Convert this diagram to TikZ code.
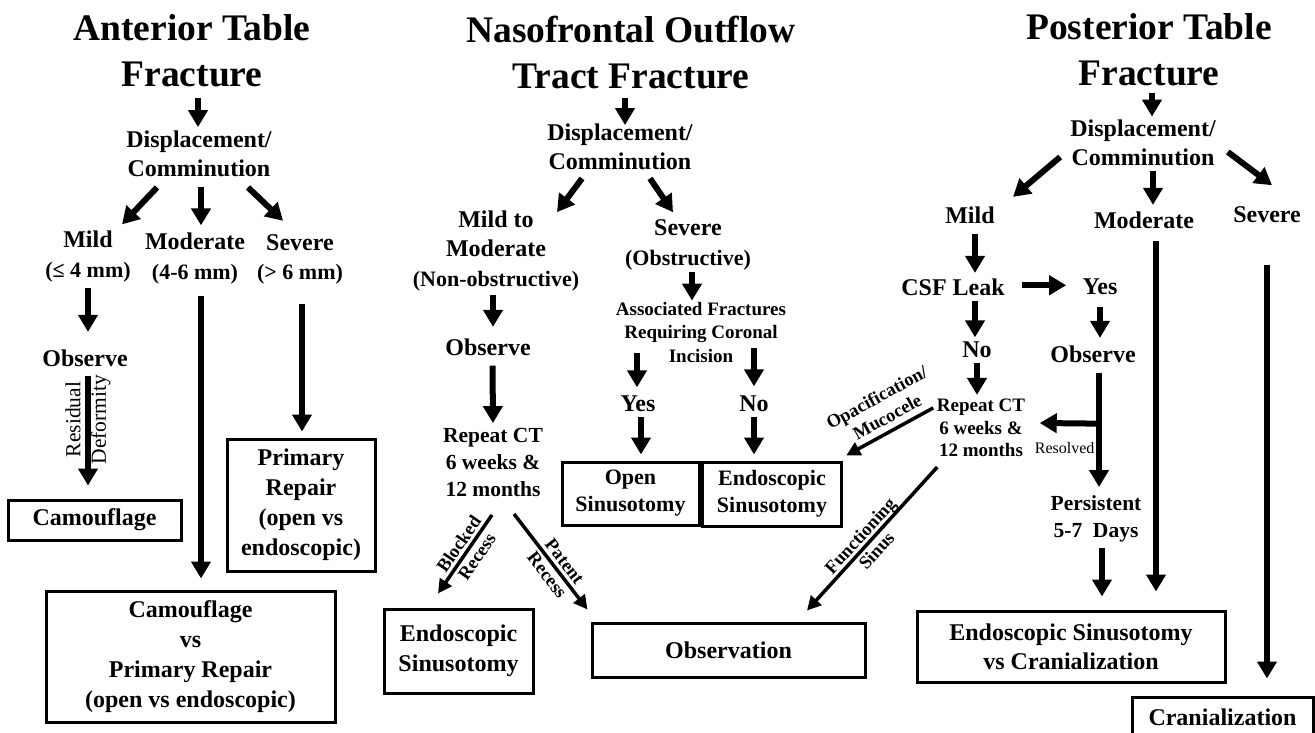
\documentclass[tikz,border=0pt]{standalone}
\usepackage{fontspec}
\setmainfont{Liberation Serif}
\usetikzlibrary{arrows.meta,calc}
\newcommand\pn[1]{{\fontsize{22}{29.5}\selectfont #1}}

\begin{document}
\begin{tikzpicture}[x=1pt,y=-1pt,
    tx/.style={align=center,inner sep=0pt},
    ttl/.style={tx,font=\fontsize{37.5}{46}\selectfont\bfseries},
    txt/.style={tx,font=\fontsize{24}{29.5}\selectfont\bfseries},
    sml/.style={tx,font=\fontsize{19}{23.5}\selectfont\bfseries},
    rpt/.style={tx,font=\fontsize{21.5}{27}\selectfont\bfseries},
    rptr/.style={tx,font=\fontsize{19}{22.5}\selectfont\bfseries},
    lbl/.style={tx,font=\fontsize{18.5}{22}\selectfont\bfseries},
    resid/.style={tx,font=\fontsize{21.5}{25.5}\selectfont},
    res/.style={tx,font=\fontsize{16}{19}\selectfont},
    rbox/.style={draw,line width=3pt,align=center,inner sep=0pt,font=\fontsize{24}{30}\selectfont\bfseries},
    arr/.style={line width=6pt,-{Triangle[width=19pt,length=17pt]}},
    darr/.style={line width=3.5pt,-{Triangle[width=14pt,length=14pt]}}]
\useasboundingbox (0,0) rectangle (1315,733);

% anterior table
\node[ttl] (tA) at (192,51) {Anterior Table\\Fracture};
\node[txt] (dA) at (199,154) {Displacement/\\Comminution};
\node[txt] (mildA) at (88,256.5) {Mild\\\pn{(≤ 4 mm)}};
\node[txt] (modA) at (195,258.5) {Moderate\\\pn{(4-6 mm)}};
\node[txt] (sevA) at (300,259.5) {Severe\\\pn{(> 6 mm)}};
\node[txt] (obsA) at (85,358) {Observe};
\node[rbox,minimum width=173pt,minimum height=40pt] (camA) at (94.5,520) {Camouflage};
\node[rbox,minimum width=148pt,minimum height=132pt] (primA) at (301,505) {Primary\\Repair\\(open vs\\endoscopic)};
\node[rbox,minimum width=289pt,minimum height=131pt] (cvpA) at (190.5,656.5) {Camouflage\\vs\\Primary Repair\\(open vs endoscopic)};

\draw[arr] ($(tA.south)+(6,11)$) -- ($(dA.north)+(-1,-3.5)$);
\draw[arr] ($(dA.south)+(-42,10)$) -- ($(mildA.north)+(34,-6.5)$);
\draw[arr] ($(dA.south)+(2,10)$) -- ($(modA.north)+(6,-7.5)$);
\draw[arr] ($(dA.south)+(49,10)$) -- ($(sevA.north)+(-17,-13.5)$);
\draw[arr] ($(mildA.south)+(0,6)$) -- ($(obsA.north)+(3,-17.5)$);
\draw[arr] ($(obsA.south)+(3,9)$) -- ($(camA.north)+(-6.5,-13)$) node[resid,pos=0.4,rotate=90] (rdA) {Residual\\Deformity};
\draw[arr] ($(modA.south)+(6,12)$) -- ($(cvpA.north)+(10.5,-11)$);
\draw[arr] ($(sevA.south)+(2,19)$) -- ($(primA.north)+(1,-6)$);

% nasofrontal outflow tract
\node[ttl] (tN) at (631,53) {Nasofrontal Outflow\\Tract Fracture};
\node[txt] (dN) at (620,147) {Displacement/\\Comminution};
\node[txt] (mmN) at (496,251) {Mild to\\Moderate\\\pn{(Non-obstructive)}};
\node[txt] (sN) at (688,245) {Severe\\\pn{(Obstructive)}};
\node[sml] (aN) at (701,332) {Associated Fractures\\Requiring Coronal\\Incision};
\node[txt] (obsN) at (488,347) {Observe};
\node[rpt] (ctN) at (493,462.5) {Repeat CT\\6 weeks \&\\12 months};
\node[txt] (yesN) at (638,404) {Yes};
\node[txt] (noN) at (754,404) {No};
\node[rbox,font=\fontsize{22}{27}\selectfont\bfseries,minimum width=137pt,minimum height=63pt] (openN) at (630.5,493.5) {Open\\Sinusotomy};
\node[rbox,font=\fontsize{22}{27}\selectfont\bfseries,minimum width=139.5pt,minimum height=64pt] (endoN) at (772,494) {Endoscopic\\Sinusotomy};
\node[rbox,minimum width=149pt,minimum height=84pt] (endoL) at (458.5,651) {Endoscopic\\Sinusotomy};
\node[rbox,minimum width=273pt,minimum height=54pt] (obsB) at (728.5,650) {Observation};

\draw[arr] ($(tN.south)+(-6,8)$) -- ($(dN.north)+(5,1.5)$);
\draw[arr] ($(dN.south)+(-38,8)$) -- ($(mmN.north)+(61,1.5)$);
\draw[arr] ($(dN.south)+(30,8)$) -- ($(sN.north)+(-15,-7.5)$);
\draw[arr] ($(sN.south)+(4,2)$) -- ($(aN.north)+(-9,-1)$);
\draw[arr] ($(mmN.south)+(-3,4)$) -- ($(obsN.north)+(5,-11.5)$);
\draw[arr] ($(obsN.south)+(4.5,10)$) -- ($(ctN.north)+(0,-5)$);
\draw[arr] ($(aN.south)+(-64,-9)$) -- ($(yesN.north)+(-1,-8.5)$);
\draw[arr] ($(yesN.south)+(3,5)$) -- ($(openN.north)+(10.5,-6)$);
\draw[arr] ($(aN.south)+(53,-14)$) -- ($(noN.north)+(0,-9.5)$);
\draw[arr] ($(noN.south)+(0,5)$) -- ($(endoN.north)+(-18,-6)$);
\draw[darr] ($(ctN.south)+(-1,18)$) -- ($(endoL.north)+(-20.5,-14)$) node[lbl,sloped,pos=0.45] (blkN) {Blocked\\Recess};
\draw[darr] ($(ctN.south)+(21,17)$) -- ($(obsB.north west)+(-3,-12)$) node[lbl,sloped,pos=0.57] (patN) {Patent\\Recess};

% posterior table
\node[ttl] (tP) at (1149,50) {Posterior Table\\Fracture};
\node[txt] (dP) at (1143,143) {Displacement/\\Comminution};
\node[txt] (mildP) at (970,215) {Mild};
\node[txt] (modP) at (1144,220) {Moderate};
\node[txt] (sevP) at (1267,215) {Severe};
\node[txt] (csfP) at (953,287) {CSF Leak};
\node[txt] (yesP) at (1100,287) {Yes};
\node[txt] (noP) at (977,350) {No};
\node[txt] (obsP) at (1093,354) {Observe};
\node[rptr] (ctP) at (981,428) {Repeat CT\\6 weeks \&\\12 months};
\node[rpt] (perP) at (1096,518.5) {Persistent\\5-7~ Days};
\node[rbox,font=\fontsize{24}{29}\selectfont\bfseries,minimum width=308pt,minimum height=71pt] (escP) at (1071,646.5) {Endoscopic Sinusotomy\\vs Cranialization};
\node[rbox,minimum width=181pt,minimum height=40pt] (crP) at (1222.5,717) {Cranialization};

\draw[arr] ($(tP.south)+(3,7)$) -- ($(dP.north)+(9,-3)$);
\draw[arr] ($(dP.west)+(-10,14)$) -- ($(mildP.north)+(43,-9.5)$);
\draw[arr] ($(dP.south)+(10,5)$) -- ($(modP.north)+(9,-6.5)$);
\draw[arr] ($(dP.east)+(12,9)$) -- ($(sevP.north)+(5,-21.5)$);
\draw[arr] ($(mildP.south)+(5,10)$) -- ($(csfP.north)+(22,-5.5)$);
\draw[arr] ($(csfP.east)+(17,-1.75)$) -- ($(yesP.west)+(-16.3,-1.75)$);
\draw[arr] ($(csfP.south)+(22,5)$) -- ($(noP.north)+(-2,-4.5)$);
\draw[arr] ($(yesP.south)+(0,12)$) -- ($(obsP.north)+(7,-7.5)$);
\draw[arr] ($(noP.south)+(0,5)$) -- ($(ctP.north)+(-4,-4)$);
\draw[arr] ($(obsP.south)+(6,10)$) -- ($(perP.north)+(3,-8)$);
\draw[arr] ($(obsP.south)+(6,61)$) -- ($(ctP.east)+(14.5,-5)$) node[res,below=16pt,pos=0.58] (rsP) {Resolved};
\draw[arr] ($(perP.south)+(6,6.3)$) -- ($(escP.north)+(31,-13)$);
\draw[arr] ($(modP.south)+(12,12)$) -- ($(escP.north)+(85,-18)$);
\draw[arr] ($(sevP.south)+(0,42)$) -- ($(crP.north)+(44.5,-17)$);
\draw[darr] ($(ctP.north west)+(-3.5,9)$) -- ($(endoN.north east)+(3,-5)$) node[lbl,sloped,above=6pt,pos=0.45] (opP) {Opacification/\\Mucocele};
\draw[darr] ($(ctP.south west)+(0.5,10)$) -- ($(obsB.north)+(78.5,-11)$) node[lbl,sloped,pos=0.53] (fsP) {Functioning\\Sinus};
\end{tikzpicture}
\end{document}
